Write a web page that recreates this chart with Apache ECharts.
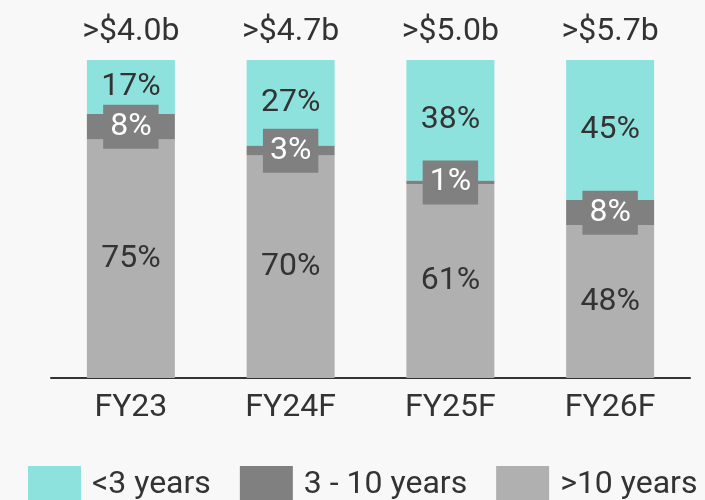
<!DOCTYPE html>
<html>
  <head>
    <meta charset="utf-8" />
    <title>ECharts</title>
    <script src="https://cdn.jsdelivr.net/npm/echarts@6.0.0/dist/echarts.min.js"></script>
    <style>
      html, body { margin: 0; padding: 0; background: #f8f8f8; }
    </style>
  </head>
  <body>
    <div id="main" style="width: 705px;height:500px;"></div>
    <script type="text/javascript">
      // data
      var categories = ['FY23', 'FY24F', 'FY25F', 'FY26F'];
      var totals = ['>$4.0b', '>$4.7b', '>$5.0b', '>$5.7b'];
      var over10 = [75, 70, 61, 48];
      var mid = [8, 3, 1, 8];
      var under3 = [17, 27, 38, 45];

      var chartDom = document.getElementById('main');
      var myChart = echarts.init(chartDom);
      var font = 'Roboto';
      var txt = '#333333';

      var option = {
        backgroundColor: '#f8f8f8',
        animation: false,
        textStyle: { fontFamily: font },
        legend: {
          left: 28,
          top: 466,
          padding: 0,
          itemWidth: 53,
          itemHeight: 38,
          itemGap: 29,
          icon: 'rect',
          data: ['<3 years', '3 - 10 years', '>10 years'],
          textStyle: { fontSize: 32, color: txt, fontFamily: font, padding: [0, 0, 0, 6] }
        },
        grid: { left: 51, right: 15, top: 60, bottom: 122 },
        xAxis: [
          {
            type: 'category',
            data: categories,
            axisLine: { lineStyle: { color: '#333', width: 2 } },
            axisTick: { show: false },
            axisLabel: { fontSize: 32, color: txt, margin: 14, fontFamily: font }
          },
          {
            type: 'category',
            position: 'top',
            data: totals,
            axisLine: { show: false },
            axisTick: { show: false },
            axisLabel: { fontSize: 32, color: txt, margin: 12, fontFamily: font }
          }
        ],
        yAxis: {
          type: 'value',
          min: 0,
          max: 100,
          show: false,
          splitLine: { show: false }
        },
        series: [
          {
            name: '>10 years',
            type: 'bar',
            stack: 'all',
            barWidth: 88,
            data: over10,
            itemStyle: { color: '#b0b0b0' },
            label: { show: true, position: 'inside', formatter: '{c}%', fontSize: 32, color: txt, fontFamily: font }
          },
          {
            name: '3 - 10 years',
            type: 'bar',
            stack: 'all',
            data: mid,
            itemStyle: { color: '#808080' },
            label: {
              show: true,
              position: 'inside',
              formatter: '{c}%',
              fontSize: 32,
              color: '#ffffff',
              fontFamily: font,
              backgroundColor: '#808080',
              padding: [6, 7, 6, 7]
            },
            z: 3
          },
          {
            name: '<3 years',
            type: 'bar',
            stack: 'all',
            data: under3,
            itemStyle: { color: '#8de2de' },
            label: { show: true, position: 'inside', formatter: '{c}%', fontSize: 32, color: txt, fontFamily: font }
          }
        ]
      };

      option && myChart.setOption(option);
    </script>
  </body>
</html>
